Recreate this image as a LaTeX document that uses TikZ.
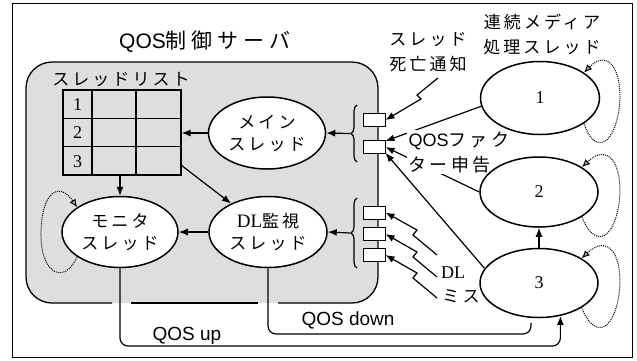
\documentclass[tikz,border=0pt]{standalone}
\usepackage{fontspec}
\setmainfont{Liberation Serif}
\newfontfamily\jp[LetterSpace=18]{Noto Sans CJK JP}
\newfontfamily\jpt[LetterSpace=24]{Noto Sans CJK JP}
\newfontfamily\lsans{Liberation Sans}
\usetikzlibrary{arrows.meta,shapes.geometric,decorations.pathreplacing,calc}
\pgfdeclarelayer{under}
\pgfsetlayers{under,main}
\begin{document}
\begin{tikzpicture}[x=1pt,y=-1pt,
  ell/.style={draw, line width=1.5pt, ellipse, inner sep=0pt, fill=white},
  conn/.style={line width=1.2pt, -{Latex[length=9pt,width=7pt]}},
  plain/.style={line width=1.2pt},
  loopy/.style={densely dotted, line width=1pt, -{Latex[length=8pt,width=7pt,fill=gray!60]}},
  slot/.style={draw, line width=1pt, fill=white, minimum width=22pt, minimum height=13pt, inner sep=0pt},
  jtxt/.style={font=\jp\fontsize{17}{22}\selectfont, align=center, inner sep=0pt},
  jlab/.style={font=\jp\fontsize{17}{25}\selectfont, align=center, inner sep=0pt},
  num/.style={font=\rmfamily\fontsize{18}{20}\selectfont, inner sep=0pt},
  qlab/.style={font=\lsans\fontsize{19}{20}\selectfont, inner sep=0pt},
  brc/.style={line width=1.2pt, decorate, decoration={brace, amplitude=6pt}},
]
\useasboundingbox (0,0) rectangle (637,360);
\draw[line width=1pt] (12,3) rectangle (632,357);

% server
\fill[black!13, rounded corners=26pt] (26,62) rectangle (378,303);
\draw[line width=1.3pt, rounded corners=26pt] (112,303) -| (26,62) -| (378,303) -- (278,303);
\draw[line width=1.3pt] (131,303) -- (258,303);

\node[font=\jpt\fontsize{21}{24}\selectfont, inner sep=0pt] (title) at (205,42) {{\lsans\fontsize{21}{24}\selectfont QOS}制御サーバ};

% thread list
\node[jtxt] (tl) at (121,80) {スレッドリスト};
\node[draw, line width=1.2pt, minimum width=118pt, minimum height=85pt, inner sep=0pt] (tbl) at (122,132.5) {};
\draw[line width=1.2pt] (92,90) -- (92,175) (136,90) -- (136,175)
  (63,118.3) -- (181,118.3) (63,146.7) -- (181,146.7);
\node[num] (n1) at (77.5,104.5) {1};
\node[num] (n2) at (77.5,133) {2};
\node[num] (n3) at (77.5,161.5) {3};

% ellipses
\node[ell, minimum width=117pt, minimum height=72pt, font=\jp\fontsize{17}{22}\selectfont, align=center] (main) at (267,133) {メイン\\スレッド};
\node[ell, minimum width=116pt, minimum height=71pt, font=\jp\fontsize{17}{22}\selectfont, align=center] (mon) at (120,232) {モニタ\\スレッド};
\node[ell, minimum width=118pt, minimum height=71pt, font=\jp\fontsize{17}{22}\selectfont, align=center] (dl) at (268,232) {{\rmfamily\fontsize{19}{22}\selectfont DL}監視\\スレッド};
\node[ell, minimum width=119pt, minimum height=73pt, font=\rmfamily\fontsize{18}{20}\selectfont] (e1) at (540,98) {1};
\node[ell, minimum width=118pt, minimum height=70pt, font=\rmfamily\fontsize{18}{20}\selectfont] (e2) at (539,192) {2};
\node[ell, minimum width=118pt, minimum height=69pt, font=\rmfamily\fontsize{18}{20}\selectfont] (e3) at (539,283) {3};

% internal arrows
\draw[conn] (main.west) -- (main.west -| tbl.east);
\draw[conn] (mon.north |- tbl.south) -- (mon.north);
\coordinate (tq) at (181,165);
\draw[conn] (tq) -- (dl);
\draw[conn] (dl.west) -- (mon.east);

% slots
\node[slot] (s1) at (374,120) {};
\node[slot] (s2) at (374,147) {};
\node[slot] (d1) at (374,212.5) {};
\node[slot] (d2) at (374,234) {};
\node[slot] (d3) at (374,255) {};

% braces
\draw[brc] (357,162) -- (357,105);
\coordinate (b1) at (350,133.5);
\draw[conn] (b1) -- (main.east);
\draw[brc] (357,268) -- (357,198);
\coordinate (b2) at (350,233);
\draw[conn] (b2) -- (dl.east);

% thread death lightning
\coordinate (z1) at (438,78);
\draw[conn] (z1) -- ++(-21,17) -- ++(4,4) -- (s1.east);

% QOS factor (under the ellipses, label masks the lines)
\begin{pgfonlayer}{under}
\draw[conn] (e1.188) -- ($(s2.east)+(0,-6)$);
\draw[conn] (e2.west) -- (s2.east);
\draw[conn] (e3.165) -- ($(s2.east)+(0,6)$);
\node[fill=white, inner sep=1.5pt, align=left, anchor=north west, font=\jp\fontsize{18}{25}\selectfont] (qf) at (407,130) {{\lsans\fontsize{18}{25}\selectfont QOS}ファク\\ター申告};
\end{pgfonlayer}

% DL miss lightning
\coordinate (l1) at (437,255);
\coordinate (l2) at (437,277);
\coordinate (l3) at (437,298);
\draw[conn] (l1) -- ++(-24,-20) -- ++(4,-5) -- (d1.east);
\draw[conn] (l2) -- ++(-24,-20) -- ++(4,-5) -- (d2.east);
\draw[conn] (l3) -- ++(-24,-20) -- ++(4,-5) -- (d3.east);
\node[num] (dlt) at (453,273) {DL};
\node[jtxt] (mis) at (461,296) {ミス};

% labels
\node[jlab] (death) at (428,52) {スレッド\\死亡通知};
\node[jlab] (media) at (542,34) {連続メディア\\処理スレッド};

% media threads
\draw[conn] (e3.north) -- (e2.south);

% QOS up / down
\coordinate (qu) at (e3.303);
\draw[conn, rounded corners=8pt] (mon.south) |- (qu |- 0,346) -- (qu);
\coordinate (qd) at (531,323);
\draw[plain, rounded corners=8pt] (dl.south) |- (qd |- 0,334) -- (qd);
\node[qlab] (qup) at (187,336) {QOS up};
\node[qlab] (qdn) at (348,320) {QOS down};

% self loops
\draw[loopy] (e1.-30) .. controls (592,150) and (612,152) .. (619,110) .. controls (624,70) and (608,48) .. (e1.30);
\draw[loopy] (e2.-30) .. controls (592,244) and (612,246) .. (619,204) .. controls (624,164) and (608,142) .. (e2.30);
\draw[loopy] (e3.-30) .. controls (592,335) and (612,337) .. (619,295) .. controls (624,255) and (608,233) .. (e3.30);
\draw[loopy] (mon.210) .. controls (65,285) and (40,275) .. (41,232) .. controls (42,190) and (60,182) .. (mon.150);
\end{tikzpicture}
\end{document}
